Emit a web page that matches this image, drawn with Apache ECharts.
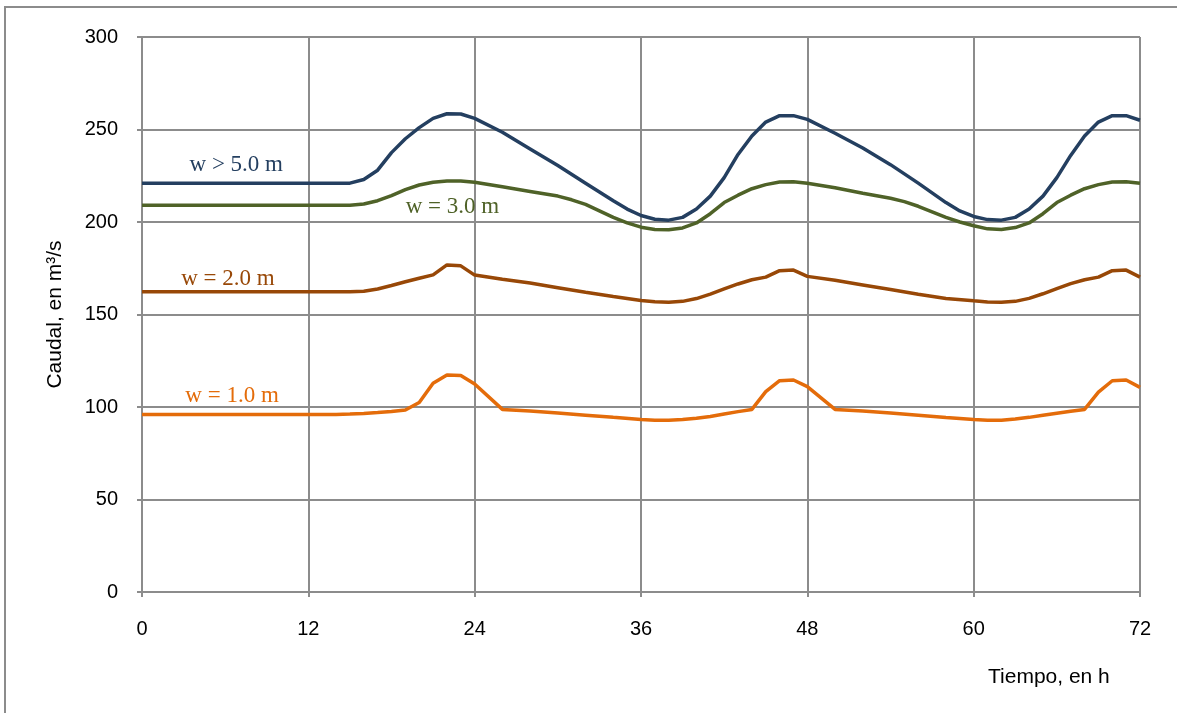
<!DOCTYPE html>
<html>
<head>
<meta charset="utf-8">
<script src="https://cdn.jsdelivr.net/npm/echarts@6/dist/echarts.min.js"></script>
<style>
html,body{margin:0;padding:0;background:#fff;}
#chart{width:1177px;height:713px;}
</style>
</head>
<body>
<div id="chart"></div>
<script>
// ---- Data ----
const xTicks = [0, 12, 24, 36, 48, 60, 72];
const yTicks = [0, 50, 100, 150, 200, 250, 300];

const hoursW5 = [0,15,16,17,18,19,20,21,22,23,24,26,28,30,32,34,35,36,37,38,39,40,41,42,43,44,45,46,47,48,50,52,54,56,58,59,60,61,62,63,64,65,66,67,68,69,70,71,72];
const flowW5  = [221,221,223,228,237.5,245,251,256,258.5,258.4,256,248.5,239.5,230.5,221,211.5,207,203.5,201.5,201,202.5,207,214,224,236.5,246.5,254,257.5,257.5,255.5,248,240,231,221,210.5,206,203,201.3,201,202.5,207,214,224,236,246.5,254,257.5,257.5,255];

const hoursW3 = [0,15,16,17,18,19,20,21,22,23,24,26,28,30,31,32,33,34,35,36,37,38,39,40,41,42,43,44,45,46,47,48,50,52,54,55,56,57,58,59,60,61,62,63,64,65,66,67,68,69,70,71,72];
const flowW3  = [209,209,209.7,211.5,214.3,217.5,220,221.5,222.2,222.2,221.5,219,216.5,214,212,209.5,206,202.5,199.5,197.2,196,195.8,196.8,199.5,204.5,210.5,214.5,218,220.2,221.6,221.8,221,218.5,215.5,212.8,211,208.5,205.5,202.5,200,198,196.3,196,197,199.5,204.5,210.5,214.5,218,220.2,221.6,221.8,221];

const hoursW2 = [0,15,16,17,18,19,20,21,22,23,24,26,28,30,32,34,36,37,38,39,40,41,42,43,44,45,46,47,48,50,52,54,56,58,60,61,62,63,64,65,66,67,68,69,70,71,72];
const flowW2  = [162.3,162.3,162.6,163.8,165.7,167.7,169.6,171.4,176.8,176.3,171.3,169,167,164.5,162,159.7,157.6,156.9,156.6,157.1,158.6,161,163.8,166.5,168.8,170.2,173.7,174,170.6,168.5,166,163.5,161,158.7,157.4,156.8,156.6,157.1,158.7,161.2,164,166.7,168.8,170.2,173.7,174,170.2];

const hoursW1 = [0,12,14,15,16,17,18,19,20,21,22,23,24,26,28,30,32,34,36,37,38,39,40,41,42,43,44,45,46,47,48,50,52,54,56,58,60,61,62,63,64,65,66,67,68,69,70,71,72];
const flowW1  = [96,96,96,96.2,96.5,97,97.6,98.4,102.4,112.8,117.3,117,112.4,98.7,97.8,96.8,95.6,94.4,93.3,92.9,92.8,93.2,93.9,94.9,96.2,97.5,98.7,108.3,114.2,114.6,111,98.7,97.8,96.8,95.6,94.3,93.2,92.9,92.8,93.5,94.4,95.5,96.6,97.7,98.7,108,114.2,114.6,110.6];

const seriesNames = ['w > 5.0 m', 'w = 3.0 m', 'w = 2.0 m', 'w = 1.0 m'];
// label anchor positions in data units (hours, m3/s)
const labelAtH = [6.8, 22.4, 6.2, 6.5];
const labelAtQ = [230.8, 208.3, 169.3, 106.2];

const xAxisTitle = 'Tiempo, en h';
const yAxisTitle = 'Caudal, en m³/s';

// ---- Styles ----
const colors = ['#243F60', '#4F6228', '#984807', '#E46C0A'];
const gridColor = '#8c8c8c';
const sansFont = '"Liberation Sans", Arial, sans-serif';
const serifFont = '"Liberation Serif", "Times New Roman", serif';

const hourSets = [hoursW5, hoursW3, hoursW2, hoursW1];
const flowSets = [flowW5, flowW3, flowW2, flowW1];

const chart = echarts.init(document.getElementById('chart'), null, {renderer: 'canvas'});

const series = seriesNames.map((name, k) => ({
  name: name,
  type: 'line',
  data: hourSets[k].map((h, i) => [h, flowSets[k][i]]),
  showSymbol: false,
  symbol: 'none',
  smooth: false,
  lineStyle: {color: colors[k], width: 3.5},
  itemStyle: {color: colors[k]},
  z: 10 - k,
  markPoint: {
    symbol: 'circle',
    symbolSize: 1,
    itemStyle: {color: 'rgba(0,0,0,0)'},
    label: {
      show: true,
      position: 'inside',
      formatter: '{b}',
      color: colors[k],
      fontFamily: serifFont,
      fontSize: 23
    },
    data: [{name: name, coord: [labelAtH[k], labelAtQ[k]]}]
  }
}));

chart.setOption({
  animation: false,
  backgroundColor: '#ffffff',
  grid: {left: 142, right: 37, top: 37, bottom: 121, containLabel: false},
  xAxis: {
    type: 'value',
    min: xTicks[0],
    max: xTicks[xTicks.length - 1],
    interval: xTicks[1] - xTicks[0],
    axisLine: {show: true, lineStyle: {color: gridColor, width: 2}},
    axisTick: {show: true, length: 5, lineStyle: {color: gridColor, width: 2}},
    axisLabel: {color: '#000', fontFamily: sansFont, fontSize: 20, margin: 27},
    splitLine: {show: true, lineStyle: {color: gridColor, width: 2}}
  },
  yAxis: {
    type: 'value',
    min: yTicks[0],
    max: yTicks[yTicks.length - 1],
    interval: yTicks[1] - yTicks[0],
    name: yAxisTitle,
    nameLocation: 'middle',
    nameGap: 76,
    nameRotate: 90,
    nameTextStyle: {color: '#000', fontFamily: sansFont, fontSize: 21},
    axisLine: {show: true, lineStyle: {color: gridColor, width: 2}},
    axisTick: {show: true, length: 5, lineStyle: {color: gridColor, width: 2}},
    axisLabel: {color: '#000', fontFamily: sansFont, fontSize: 20, margin: 24},
    splitLine: {show: true, lineStyle: {color: gridColor, width: 2}}
  },
  graphic: [
    {
      type: 'rect',
      shape: {x: 5, y: 7, width: 1400, height: 900},
      style: {fill: 'none', stroke: gridColor, lineWidth: 2},
      silent: true,
      z: -1
    },
    {
      type: 'text',
      left: 988,
      top: 667,
      style: {text: xAxisTitle, fill: '#000', font: '21px ' + sansFont}
    }
  ],
  series: series
});
</script>
</body>
</html>
